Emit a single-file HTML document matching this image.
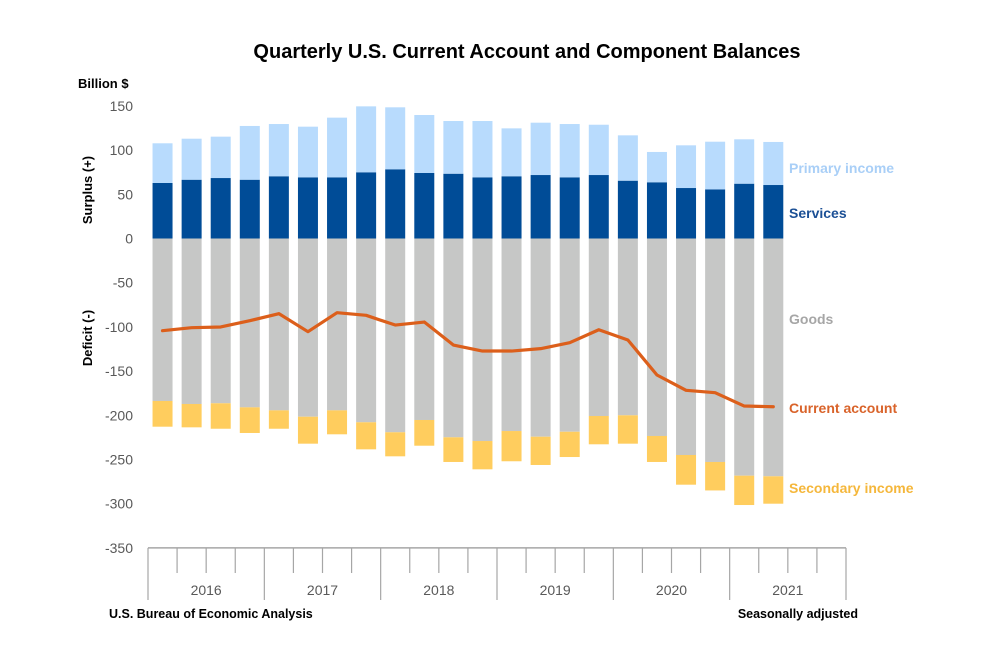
<!DOCTYPE html>
<html><head><meta charset="utf-8"><style>
body{margin:0;background:#fff;}
svg{display:block;font-family:"Liberation Sans",sans-serif;}
</style></head><body>
<svg id="chart" width="1000" height="667" viewBox="0 0 1000 667">
<rect width="1000" height="667" fill="#fff"/>
<text x="527" y="58" text-anchor="middle" font-size="20" font-weight="bold" fill="#000">Quarterly U.S. Current Account and Component Balances</text>
<text x="78" y="88" font-size="13" font-weight="bold" fill="#000">Billion $</text>
<text transform="translate(92,190) rotate(-90)" text-anchor="middle" font-size="13" font-weight="bold" fill="#000">Surplus (+)</text>
<text transform="translate(92,338) rotate(-90)" text-anchor="middle" font-size="13" font-weight="bold" fill="#000">Deficit (-)</text>
<g id="yticks"></g>
<g id="bars"></g>
<g id="axis"></g>
<g id="line"></g>
<text x="789" y="173" font-size="14" font-weight="bold" fill="#a9cff7">Primary income</text>
<text x="789" y="218" font-size="14" font-weight="bold" fill="#1b4f95">Services</text>
<text x="789" y="324" font-size="14" font-weight="bold" fill="#a6a6a6">Goods</text>
<text x="789" y="413" font-size="14" font-weight="bold" fill="#d9632a">Current account</text>
<text x="789" y="493" font-size="14" font-weight="bold" fill="#f5b73b">Secondary income</text>
<text x="109" y="618" font-size="12.5" font-weight="bold" fill="#000">U.S. Bureau of Economic Analysis</text>
<text x="858" y="618" text-anchor="end" font-size="12.5" font-weight="bold" fill="#000">Seasonally adjusted</text>
</svg>
<script>
const services=[62.8,66.5,68.4,66.5,70.4,69.2,69.2,74.9,78.3,74.1,73.3,69.2,70.4,71.8,69.2,71.8,65.4,63.6,57.1,55.6,62,60.5];
const primaryIncome=[44.9,46.4,46.8,60.8,59.1,57.3,67.5,74.6,70.1,65.6,59.6,63.7,54.2,59.2,60.3,56.9,51.3,34.3,48.3,53.9,50.2,48.7];
const goods=[-183.8,-187.2,-186.4,-191,-194.4,-201.6,-194.4,-207.9,-219.2,-205.3,-224.9,-229.1,-217.8,-224.2,-218.6,-200.8,-200,-223.4,-244.9,-252.8,-268.3,-269];
const secondaryIncome=[-29.1,-26.4,-28.8,-29,-20.8,-30.5,-27.1,-30.6,-27.2,-29.1,-27.9,-32,-34.2,-32,-28.6,-32,-32.1,-29.4,-33.6,-32.2,-33.2,-31];
const currentAccount=[-104.3,-100.9,-100.1,-93,-85,-105.4,-83.9,-86.9,-97.9,-94.5,-120.5,-127.3,-127.3,-124.6,-117.9,-103.2,-114.8,-154.4,-171.7,-174.4,-189.5,-190.3];
const yTicks=[150,100,50,0,-50,-100,-150,-200,-250,-300,-350];
const years=["2016","2017","2018","2019","2020","2021"];
const NS="http://www.w3.org/2000/svg";
const X0=148,X1=846,SLOTS=24,slot=(X1-X0)/SLOTS;
function y(v){return 238.5-v*0.884;}
function xc(i){return X0+slot*(i+0.5);}
function mk(tag,attrs,parent){const e=document.createElementNS(NS,tag);for(const k in attrs)e.setAttribute(k,attrs[k]);parent.appendChild(e);return e;}
const yt=document.getElementById('yticks');
yTicks.forEach(v=>{const t=mk('text',{x:133,y:y(v)+5,'text-anchor':'end','font-size':14,fill:'#595959'},yt);


t.textContent=v;});
const bg=document.getElementById('bars');
const BW=20;
function bar(i,a,b,col,name){const top=Math.min(y(a),y(b)),h=Math.abs(y(a)-y(b));
const r=mk('rect',{x:xc(i)-BW/2,y:top,width:BW,height:h,fill:col},bg);

}
services.forEach((s,i)=>{
bar(i,0,s,'#004c97','bar-services');
bar(i,s,s+primaryIncome[i],'#b8dbfd','bar-primary-income');
bar(i,0,goods[i],'#c6c7c6','bar-goods');
bar(i,goods[i],goods[i]+secondaryIncome[i],'#ffcd5e','bar-secondary-income');
});
const ax=document.getElementById('axis');
const ay=y(-350);
const al=mk('line',{x1:X0,x2:X1,y1:ay,y2:ay,stroke:'#a6a6a6','stroke-width':1.5},ax);


for(let k=0;k<=SLOTS;k++){const x=X0+slot*k;const long=k%4===0;
const t=mk('line',{x1:x,x2:x,y1:ay,y2:long?600:573,stroke:'#a6a6a6','stroke-width':1.2},ax);

}
years.forEach((yr,j)=>{const t=mk('text',{x:X0+slot*(4*j+2),y:595,'text-anchor':'middle','font-size':14,fill:'#595959'},ax);


t.textContent=yr;});
const lg=document.getElementById('line');
const p=mk('polyline',{points:currentAccount.map((v,i)=>xc(i)+','+y(v)).join(' '),fill:'none',stroke:'#dc5f1b','stroke-width':3.2,'stroke-linejoin':'round','stroke-linecap':'round'},lg);


</script>
</body></html>
